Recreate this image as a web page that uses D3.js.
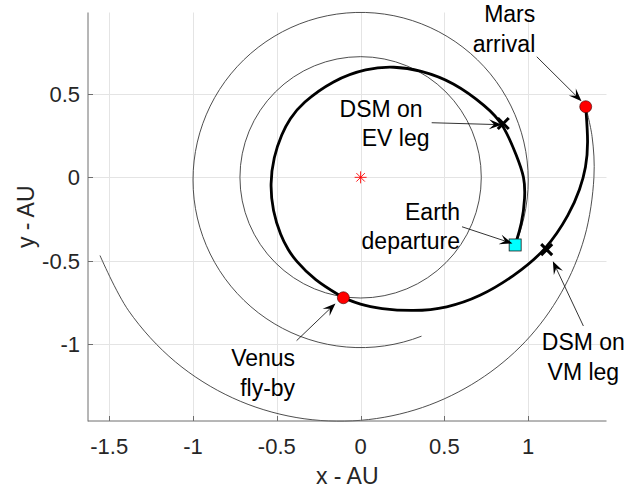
<!DOCTYPE html>
<html>
<head>
<meta charset="utf-8">
<script src="https://cdn.jsdelivr.net/npm/d3@7"></script>
<style>
	body { margin: 0; background: #fff; }
	svg { display: block; font-family: "Liberation Sans", Arial, sans-serif; }
</style>
</head>
<body>
<div id="chart"></div>
<script>
// axis ticks (AU)
const xTicks = [-1.5, -1, -0.5, 0, 0.5, 1];
const yTicks = [-1, -0.5, 0, 0.5];

// orbits: venus is a full circle [cx, cy, r], earth an arc [cx, cy, r, fromDeg, toDeg]
const venusOrbit = [0, 0, 0.72];
const earthOrbit = [0, -0.016, 1.0, -22.9, 291.3];
const marsOrbit = [
	[-1.555, -0.468], [-1.384, -0.799], [-1.105, -1.105], [-0.763, -1.321],
	[-0.385, -1.438], [0, -1.455], [0.369, -1.378], [0.702, -1.216],
	[0.983, -0.983], [1.197, -0.691], [1.336, -0.358], [1.392, 0],
	[1.381, 0.244], [1.343, 0.423],
];

// spacecraft trajectory, earth -> venus and venus -> mars
const legEV = [
	[0.922, -0.405], [0.962, -0.28], [0.982, -0.12], [0.978, 0.0],
	[0.935, 0.12], [0.851, 0.322], [0.752, 0.423], [0.553, 0.572],
	[0.354, 0.642], [0.2, 0.665], [0.036, 0.653], [-0.163, 0.583],
	[-0.352, 0.443], [-0.423, 0.35], [-0.47, 0.263], [-0.52, 0.12],
	[-0.54, -0.04], [-0.525, -0.2], [-0.477, -0.35], [-0.432, -0.435],
	[-0.391, -0.495], [-0.278, -0.615], [-0.103, -0.721],
];
const legVM = [
	[-0.103, -0.721], [-0.004, -0.762], [0.116, -0.787], [0.315, -0.803],
	[0.514, -0.783], [0.712, -0.715], [0.911, -0.595], [1.11, -0.435],
	[1.249, -0.216], [1.31, -0.07], [1.345, 0.06], [1.359, 0.204],
	[1.343, 0.423],
];

// events
const sun = [0, 0];
const departure = [0.922, -0.405];
const flybys = [[-0.103, -0.721], [1.343, 0.423]]; // venus fly-by, mars arrival
const dsms = [[0.851, 0.322], [1.11, -0.433]];

// annotation texts
const noteLabels = [
	["Mars", "arrival"],
	["DSM on", "EV leg"],
	["Earth", "departure"],
	["Venus", "fly-by"],
	["DSM on", "VM leg"],
];

const width = 626;
const height = 493;
const plot = { left: 88, right: 606.5, top: 12.5, bottom: 421 };

const svg = d3
	.select("#chart")
	.append("svg")
	.attr("width", width)
	.attr("height", height);

const xScale = d3.scaleLinear([-1.6265, 1.467], [plot.left, plot.right]);
const yScale = d3.scaleLinear([-1.459, 0.987], [plot.bottom, plot.top]);
const pxPerAU = xScale(1) - xScale(0);
const rad = Math.PI / 180;

// grid
const grid = svg.append("g").attr("stroke", "#e4e4e4").attr("stroke-width", 1);
grid.selectAll(".gx")
	.data(xTicks)
	.join("line")
	.attr("x1", d => Math.round(xScale(d)) + 0.5)
	.attr("x2", d => Math.round(xScale(d)) + 0.5)
	.attr("y1", plot.top)
	.attr("y2", plot.bottom);
grid.selectAll(".gy")
	.data(yTicks)
	.join("line")
	.attr("y1", d => Math.round(yScale(d)) + 0.5)
	.attr("y2", d => Math.round(yScale(d)) + 0.5)
	.attr("x1", plot.left)
	.attr("x2", plot.right);

const orbits = svg.append("g").attr("fill", "none").attr("stroke", "#3a3a3a").attr("stroke-width", 0.9);

orbits.append("circle")
	.attr("cx", xScale(venusOrbit[0]))
	.attr("cy", yScale(venusOrbit[1]))
	.attr("r", venusOrbit[2] * pxPerAU);

// earth arc, counter-clockwise on screen
const earthPath = d3.path();
earthPath.arc(
	xScale(earthOrbit[0]),
	yScale(earthOrbit[1]),
	earthOrbit[2] * pxPerAU,
	-earthOrbit[3] * rad,
	-earthOrbit[4] * rad,
	true
);
orbits.append("path").attr("d", earthPath.toString());

const orbitLine = d3
	.line()
	.x(d => xScale(d[0]))
	.y(d => yScale(d[1]))
	.curve(d3.curveCatmullRom.alpha(0.5));

orbits.append("path").attr("d", orbitLine(marsOrbit));

// trajectory, smoothed through the read points
const trajLine = d3
	.line()
	.x(d => xScale(d[0]))
	.y(d => yScale(d[1]))
	.curve(d3.curveBasis);

svg.append("g")
	.attr("fill", "none")
	.attr("stroke", "#000")
	.attr("stroke-width", 2.8)
	.attr("stroke-linejoin", "round")
	.selectAll("path")
	.data([legEV, legVM])
	.join("path")
	.attr("d", d => trajLine(d));

// sun marker (asterisk)
const sx = xScale(sun[0]);
const sy = yScale(sun[1]);
const star = svg.append("g").attr("stroke", "#ff0000").attr("stroke-width", 0.9);
[0, 45, 90, 135].forEach(a => {
	const dx = 6 * Math.cos(a * rad);
	const dy = 6 * Math.sin(a * rad);
	star.append("line").attr("x1", sx - dx).attr("y1", sy - dy).attr("x2", sx + dx).attr("y2", sy + dy);
});

// dsm crosses
const cross = svg.append("g").attr("stroke", "#000").attr("stroke-width", 3);
dsms.forEach(d => {
	const cx = xScale(d[0]);
	const cy = yScale(d[1]);
	cross.append("path").attr("d", `M${cx - 5.5},${cy - 5.5}L${cx + 5.5},${cy + 5.5}M${cx - 5.5},${cy + 5.5}L${cx + 5.5},${cy - 5.5}`);
});

// earth departure square
svg.append("rect")
	.attr("x", xScale(departure[0]) - 6)
	.attr("y", yScale(departure[1]) - 6)
	.attr("width", 12)
	.attr("height", 12)
	.attr("fill", "#00ffff")
	.attr("stroke", "#1a1a1a")
	.attr("stroke-width", 0.8);

// venus / mars circles
svg.append("g")
	.selectAll("circle")
	.data(flybys)
	.join("circle")
	.attr("cx", d => xScale(d[0]))
	.attr("cy", d => yScale(d[1]))
	.attr("r", 6)
	.attr("fill", "#ff0000")
	.attr("stroke", "#3a0000")
	.attr("stroke-width", 0.6);

// annotations: tail/tip in AU, text placed relative to tail (px)
const notes = [
	{ tail: [1.051, 0.722], tip: [1.318, 0.456], anchor: "end", dx: -1.5, dy: [-34.5, -5] },
	{ tail: [0.424, 0.327], tip: [0.843, 0.315], anchor: "end", dx: [-9, -2.2], dy: [-6, 23.5] },
	{ tail: [0.605, -0.296], tip: [0.906, -0.396], anchor: "end", dx: -2, dy: [-6.7, 22] },
	{ tail: [-0.382, -0.978], tip: [-0.15, -0.755], anchor: "end", dx: -1.5, dy: [25.3, 55.3] },
	{ tail: [1.329, -0.89], tip: [1.147, -0.502], anchor: "middle", dx: 0, dy: [24, 54] },
];

const ann = svg.append("g");
notes.forEach((n, i) => {
	const x0 = xScale(n.tail[0]);
	const y0 = yScale(n.tail[1]);
	const x1 = xScale(n.tip[0]);
	const y1 = yScale(n.tip[1]);
	const ang = Math.atan2(y1 - y0, x1 - x0);
	const headLen = 13;

	ann.append("line")
		.attr("x1", x0)
		.attr("y1", y0)
		.attr("x2", x1 - headLen * 0.6 * Math.cos(ang))
		.attr("y2", y1 - headLen * 0.6 * Math.sin(ang))
		.attr("stroke", "#000")
		.attr("stroke-width", 0.8);

	ann.append("path")
		.attr("d", `M0,0L${-headLen},${-5}L${-headLen * 0.6},0L${-headLen},5Z`)
		.attr("transform", `translate(${x1},${y1}) rotate(${ang / rad})`)
		.attr("fill", "#000");

	noteLabels[i].forEach((txt, k) => {
		const dx = Array.isArray(n.dx) ? n.dx[k] : n.dx;
		ann.append("text")
			.attr("x", x0 + dx)
			.attr("y", y0 + n.dy[k])
			.attr("text-anchor", n.anchor)
			.style("font-size", "23px")
			.style("fill", "#000")
			.text(txt);
	});
});

// axes (box off, ticks inside)
const axisColor = "#262626";
const axes = svg.append("g").attr("stroke", "#6e6e6e").attr("stroke-width", 1);
axes.append("line").attr("x1", plot.left).attr("x2", plot.left).attr("y1", plot.top).attr("y2", plot.bottom + 0.5);
axes.append("line").attr("x1", plot.left).attr("x2", plot.right).attr("y1", plot.bottom).attr("y2", plot.bottom);

axes.selectAll(".tx")
	.data(xTicks)
	.join("line")
	.attr("x1", d => Math.round(xScale(d)) + 0.5)
	.attr("x2", d => Math.round(xScale(d)) + 0.5)
	.attr("y1", plot.bottom)
	.attr("y2", plot.bottom - 5);
axes.selectAll(".ty")
	.data(yTicks)
	.join("line")
	.attr("y1", d => Math.round(yScale(d)) + 0.5)
	.attr("y2", d => Math.round(yScale(d)) + 0.5)
	.attr("x1", plot.left)
	.attr("x2", plot.left + 5);

const fmt = d => String(d);

svg.append("g")
	.selectAll("text")
	.data(xTicks)
	.join("text")
	.attr("x", d => xScale(d))
	.attr("y", 453.5)
	.attr("text-anchor", "middle")
	.style("font-size", "22px")
	.style("fill", axisColor)
	.text(fmt);

svg.append("g")
	.selectAll("text")
	.data(yTicks)
	.join("text")
	.attr("x", 80)
	.attr("y", d => yScale(d))
	.attr("dy", "0.35em")
	.attr("text-anchor", "end")
	.style("font-size", "22px")
	.style("fill", axisColor)
	.text(fmt);

// axis labels
svg.append("text")
	.attr("x", (plot.left + plot.right) / 2)
	.attr("y", 484)
	.attr("text-anchor", "middle")
	.style("font-size", "23px")
	.style("fill", axisColor)
	.text("x - AU");

svg.append("text")
	.attr("transform", `translate(33.5,${(plot.top + plot.bottom) / 2}) rotate(-90)`)
	.attr("text-anchor", "middle")
	.style("font-size", "23px")
	.style("fill", axisColor)
	.text("y - AU");
</script>
</body>
</html>
